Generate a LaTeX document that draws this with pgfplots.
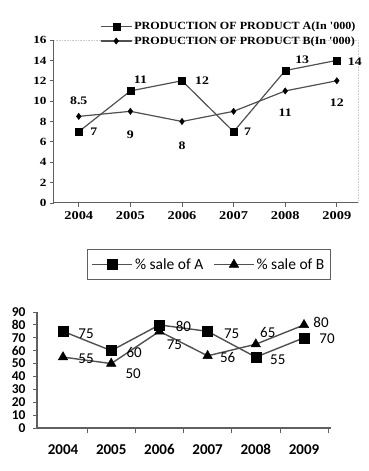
\documentclass[border=0pt]{standalone}
\usepackage{fontspec}
\usepackage{pgfplots}
\pgfplotsset{compat=1.18}
\usepackage{pgfplotstable}
\newfontfamily\topfont[FakeStretch=1.2]{Liberation Serif}
\newfontfamily\legfont[FakeStretch=1.1]{Liberation Serif}
\newfontfamily\botfont{Carlito}
\definecolor{ln}{HTML}{505050}
\definecolor{ax}{HTML}{606060}

\pgfplotstableread{
x y lab dx dy
0 7 7 15 0
1 11 11 10 11
2 12 12 20 0
3 7 7 14 0
4 13 13 17 11
5 14 14 18 -1
}\topA
\pgfplotstableread{
x y lab dx dy
0 8.5 8.5 0 16
1 9 9 0 -23
2 8 8 0 -24
3 9 {} 0 0
4 11 11 0 -22
5 12 12 0 -22
}\topB
\pgfplotstableread{
x y lab dx dy
0 75 75 23 -2
1 60 60 23 -2
2 80 80 24 -2
3 75 75 24 -2
4 55 55 22 -3
5 70 70 23 -1
}\botA
\pgfplotstableread{
x y lab dx dy
0 55 55 23 -2
1 50 50 22 -10
2 75 75 15 -13
3 56 56 20 -2
4 65 65 12 12
5 80 80 17 2
}\botB

\pgfplotsset{
  lbl/.style={
    point meta=explicit symbolic,
    nodes near coords={\pgfplotspointmeta},
    visualization depends on={\thisrow{dx} \as \ldx},
    visualization depends on={\thisrow{dy} \as \ldy},
    nodes near coords style={anchor=center, inner sep=0pt, xshift=\ldx pt, yshift=\ldy pt, text=black},
  },
  longlegend/.style={legend image code/.code={
    \draw[mark repeat=2,mark phase=2,##1] plot coordinates {(0pt,0pt) (#1,0pt) (2*#1,0pt)};}},
}

\begin{document}
\begin{tikzpicture}
\useasboundingbox (0,0) rectangle (369pt,471pt);

% ---------- top chart ----------
\begin{axis}[
  at={(54pt,268pt)}, anchor=south west,
  scale only axis, width=304pt, height=163pt,
  xmin=-0.48, xmax=5.41, ymin=0, ymax=16,
  clip=false,
  axis lines=left, axis line style={-, ax, line width=1pt},
  xtick={0,...,5}, xticklabels={2004,2005,2006,2007,2008,2009},
  ytick={0,2,...,16},
  tick style={ax, line width=0.8pt},
  tick align=outside, major tick length=4pt,
  /pgf/number format/assume math mode=true,
  xticklabel style={font=\topfont\bfseries\fontsize{12}{14}\selectfont, yshift=-1pt},
  yticklabel style={font=\topfont\bfseries\fontsize{11}{13}\selectfont},
  legend style={at={(0.151,1.125)}, anchor=north west, draw=none, fill=none,
    font=\legfont\bfseries\fontsize{11}{13}\selectfont, row sep=1.5pt, inner sep=0pt},
  legend cell align=left, longlegend=15.5pt,
]
\draw[gray!40, densely dotted, line width=0.6pt] (axis description cs:0,1) -- (axis description cs:1,1) -- (axis description cs:1,0);
\addlegendimage{ln, line width=1.2pt, mark=square*, mark size=3.5pt,
  mark options={fill=black, draw=black, line width=0.4pt}}
\addlegendentry{PRODUCTION OF PRODUCT A(In '000)}
\addlegendimage{ln, line width=1.2pt, mark=diamond*, mark size=3.2pt,
  mark options={fill=black, draw=black, line width=0.4pt}}
\addlegendentry{PRODUCTION OF PRODUCT B(In '000)}
\addplot[ln, line width=1.2pt, mark=square*, mark size=3.5pt,
  mark options={fill=black, draw=black, line width=0.4pt}, lbl,
  nodes near coords style={font=\topfont\bfseries\fontsize{11.5}{13}\selectfont}, forget plot]
  table[x=x, y=y, meta=lab] {\topA};
\addplot[ln, line width=1.2pt, mark=diamond*, mark size=3.2pt,
  mark options={fill=black, draw=black, line width=0.4pt}, lbl,
  nodes near coords style={font=\topfont\bfseries\fontsize{11.5}{13}\selectfont}, forget plot]
  table[x=x, y=y, meta=lab] {\topB};
\end{axis}

% ---------- bottom chart ----------
\begin{axis}[
  at={(37pt,43pt)}, anchor=south west,
  scale only axis, width=294pt, height=116pt,
  xmin=-0.54, xmax=5.56, ymin=0, ymax=90,
  clip=false,
  axis lines=left, axis line style={-, ax, line width=1.3pt},
  xtick={0,...,5}, xticklabels={2004,2005,2006,2007,2008,2009},
  major x tick style={draw=none},
  minor xtick={0.5,1.5,...,5.5},
  minor tick length=5pt,
  ytick={0,10,...,90},
  tick style={ax, line width=0.8pt},
  tick align=outside, major tick length=4pt,
  /pgf/number format/assume math mode=true,
  xticklabel style={font=\botfont\bfseries\fontsize{15}{17}\selectfont, yshift=-9pt},
  yticklabel style={font=\botfont\bfseries\fontsize{13.5}{15}\selectfont, xshift=-4pt},
  legend style={at={(0.585,1.409)}, anchor=center, draw=ax, line width=0.6pt, fill=white,
    font=\botfont\fontsize{15.5}{17}\selectfont, inner xsep=4pt, inner ysep=7pt,
    /tikz/every even column/.append style={column sep=8pt}},
  legend columns=2, longlegend=20pt,
]
\addlegendimage{ln, line width=1.4pt, mark=square*, mark size=5pt,
  mark options={fill=black, draw=black, line width=0.4pt}}
\addlegendentry{\% sale of A}
\addlegendimage{ln, line width=1.4pt, mark=triangle*, mark size=5.5pt,
  mark options={fill=black, draw=black, line width=0.4pt}}
\addlegendentry{\% sale of B}
\addplot[ln, line width=1.4pt, mark=square*, mark size=5pt,
  mark options={fill=black, draw=black, line width=0.4pt}, lbl,
  nodes near coords style={font=\botfont\fontsize{15}{17}\selectfont}, forget plot]
  table[x=x, y=y, meta=lab] {\botA};
\addplot[ln, line width=1.4pt, mark=triangle*, mark size=5.5pt,
  mark options={fill=black, draw=black, line width=0.4pt}, lbl,
  nodes near coords style={font=\botfont\fontsize{15}{17}\selectfont}, forget plot]
  table[x=x, y=y, meta=lab] {\botB};
\end{axis}
\end{tikzpicture}
\end{document}
